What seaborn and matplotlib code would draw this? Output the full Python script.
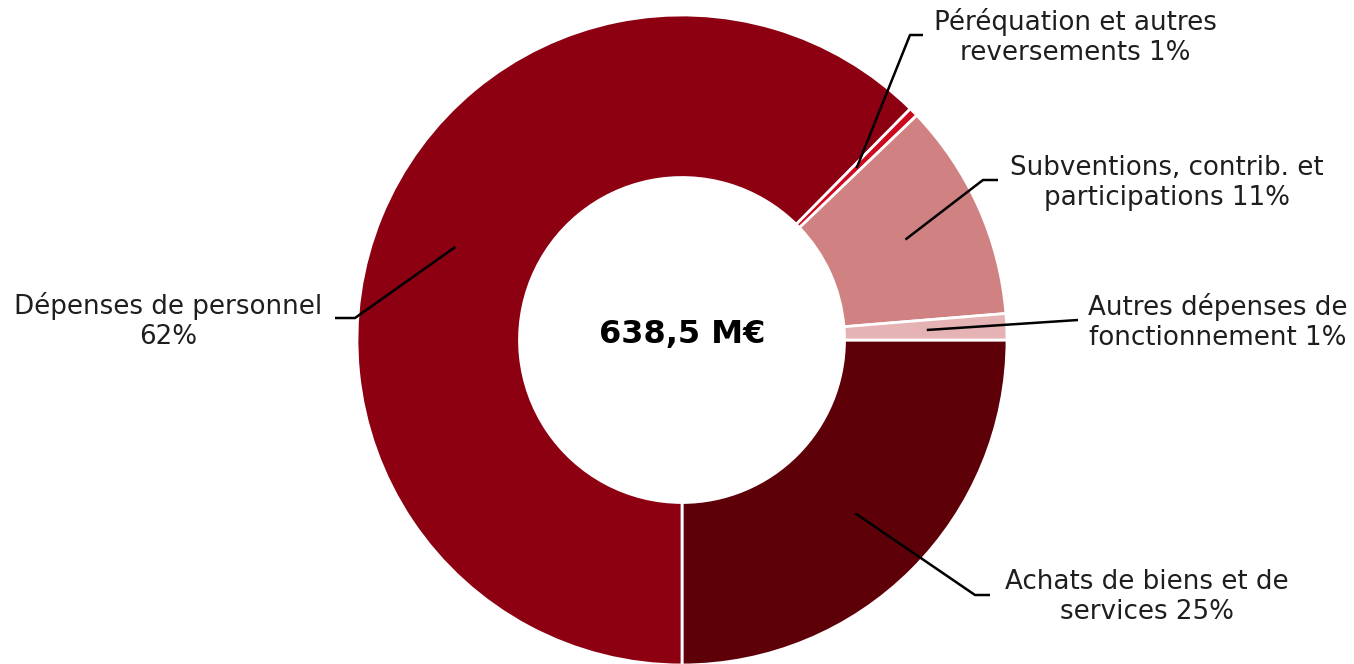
import numpy as np
import matplotlib
matplotlib.use("Agg")
import matplotlib.pyplot as plt
import seaborn as sns

# ---- data ----
categories = ["Achats de biens et de\nservices 25%",
              "Dépenses de personnel\n62%",
              "Péréquation et autres\nreversements 1%",
              "Subventions, contrib. et\nparticipations 11%",
              "Autres dépenses de\nfonctionnement 1%"]
shares = [25.0, 62.4, 0.45, 10.85, 1.3]
colors = ["#5e0008", "#8c0011", "#cc0a1e", "#d08282", "#e5b3b3"]
total_label = "638,5 M€"

sns.set_theme(style="white")
plt.rcParams['font.family'] = ['DejaVu Sans']

W, H = 1354, 664
fig = plt.figure(figsize=(W / 100, H / 100), dpi=100)
ax = fig.add_axes([0, 0, 1, 1])
ax.set_xlim(0, W)
ax.set_ylim(0, H)
ax.set_aspect('equal')
ax.axis('off')

cx, cy = 682, H - 340
R = 325
ring = 0.5

wedges, _ = ax.pie(shares, colors=colors, startangle=0, counterclock=False,
                   radius=R, center=(cx, cy),
                   wedgeprops=dict(width=R * ring, edgecolor='white', linewidth=2))
ax.set_xlim(0, W)
ax.set_ylim(0, H)

ax.text(cx, cy + 5, total_label, ha='center', va='center', fontsize=23,
        fontweight='bold', color='black')

# layout of labels: (elbow x, elbow y, end x, end y, text x, text y) in pixel coords (y down)
layout = [
    (975, 595, 990, 595, 1147, 597),
    (355, 318, 335, 318, 168, 321),
    (910, 35, 923, 35, 1075, 37),
    (983, 180, 998, 180, 1167, 183),
    (1078, 320, 1078, 320, 1218, 322),
]
r_anchor = 245
for w, lab, (ex, ey, fx, fy, tx, ty) in zip(wedges, categories, layout):
    mid = np.deg2rad((w.theta1 + w.theta2) / 2)
    ax_ = cx + r_anchor * np.cos(mid)
    ay_ = cy + r_anchor * np.sin(mid)
    ax.plot([ax_, ex, fx], [ay_, H - ey, H - fy], color='black', lw=1.8,
            solid_capstyle='butt')
    ax.text(tx, H - ty, lab, ha='center', va='center', fontsize=18.8,
            color='#1e1e1e', linespacing=1.22)

fig.savefig("out.png", dpi=100, facecolor='white')
